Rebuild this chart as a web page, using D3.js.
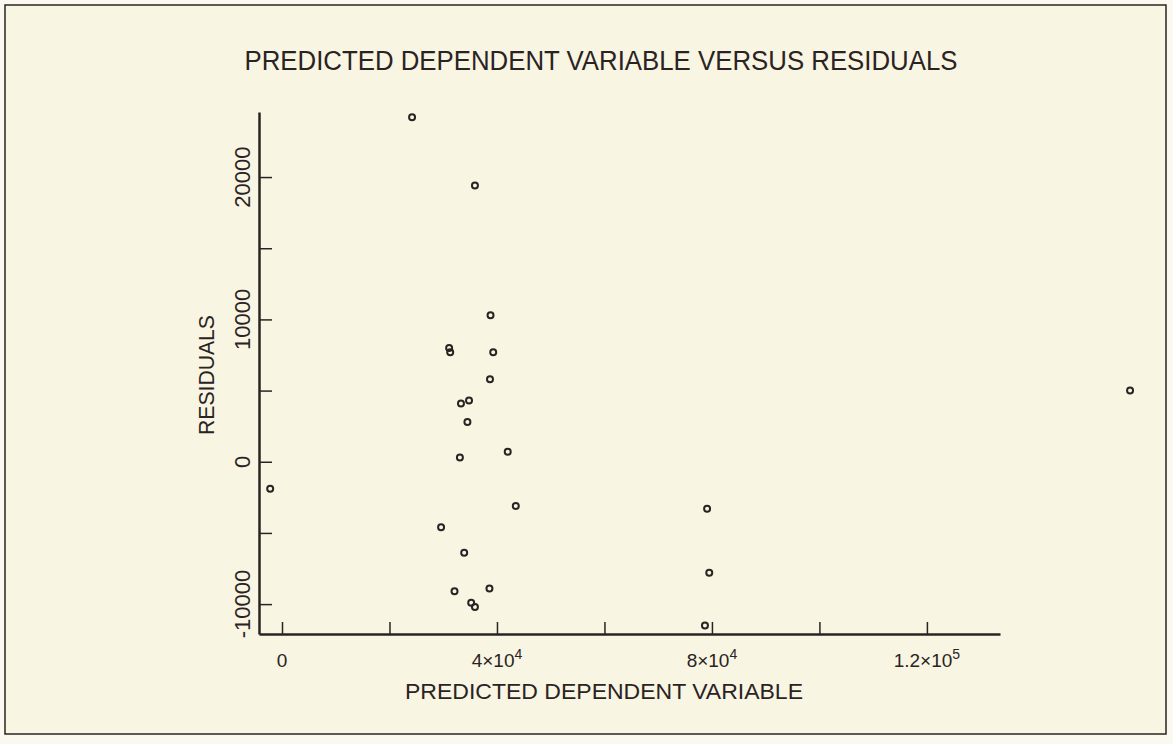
<!DOCTYPE html>
<html>
<head>
<meta charset="utf-8">
<script src="https://cdn.jsdelivr.net/npm/d3@7/dist/d3.min.js"></script>
<style>
  body { margin: 0; background: #fbf9ef; }
  svg { display: block; }
  text { font-family: "Liberation Sans", Arial, sans-serif; fill: #2b2323; }
</style>
</head>
<body>
<svg id="chart" width="1173" height="744"></svg>
<script>
// values
const predicted = [24200, 35900, 38800, 31100, 31300, 39300, 38700, 33300, 34800, 34500, 33100, 42000,
  -2200, 43500, 29600, 33900, 32100, 38600, 35200, 35900, 79100, 79500, 78700, 157800];
const residuals = [24200, 19400, 10300, 8000, 7700, 7700, 5800, 4100, 4300, 2800, 300, 700,
  -1900, -3100, -4600, -6400, -9100, -8900, -9900, -10200, -3300, -7800, -11500, 5000];

const yTicks = [-10000, -5000, 0, 5000, 10000, 15000, 20000];
const yTickLabels = ["-10000", "0", "10000", "20000"];
const xTicks = [0, 20000, 40000, 60000, 80000, 100000, 120000];
const xLabelValues = [0, 40000, 80000, 120000];
const xLabelBase = ["0", "4×10", "8×10", "1.2×10"];
const xLabelExp = ["", "4", "4", "5"];

const ink = "#2b2323";
const svg = d3.select("#chart");

svg.append("rect")
  .attr("x", 5).attr("y", 5).attr("width", 1161).attr("height", 729)
  .attr("fill", "#f8f5e2").attr("stroke", ink).attr("stroke-width", 1.5);

const x = d3.scaleLinear().domain([-4280, 133600]).range([259, 1000]);
const y = d3.scaleLinear().domain([-12100, 24570]).range([634, 112]);

// y axis, ticks pointing inward
svg.append("g")
  .attr("transform", `translate(${x.range()[0]},0)`)
  .call(d3.axisRight(y).tickValues(yTicks).tickSize(13).tickSizeOuter(0).tickFormat(""))
  .call(g => g.select(".domain").attr("stroke", ink).attr("stroke-width", 2.5))
  .call(g => g.selectAll(".tick line").attr("stroke", ink).attr("stroke-width", 1.5));

// x axis, ticks pointing up
svg.append("g")
  .attr("transform", `translate(0,${y.range()[0]})`)
  .call(d3.axisTop(x).tickValues(xTicks).tickSize(12).tickSizeOuter(0).tickFormat(""))
  .call(g => g.select(".domain").attr("stroke", ink).attr("stroke-width", 2.5))
  .call(g => g.selectAll(".tick line").attr("stroke", ink).attr("stroke-width", 1.5));

// y tick labels, rotated
yTickLabels.forEach(s => {
  const v = +s;
  svg.append("text")
    .attr("transform", `translate(250,${y(v)}) rotate(-90)`)
    .attr("text-anchor", "middle")
    .style("font-size", "22px")
    .text(s);
});

// x tick labels with exponents
xLabelValues.forEach((v, i) => {
  const t = svg.append("text")
    .attr("x", x(v)).attr("y", 667)
    .attr("text-anchor", "middle")
    .style("font-size", "19px");
  t.append("tspan").text(xLabelBase[i]);
  if (xLabelExp[i]) t.append("tspan").attr("dy", -8).style("font-size", "14px").text(xLabelExp[i]);
});

svg.selectAll("circle.pt")
  .data(predicted)
  .enter()
  .append("circle")
  .attr("class", "pt")
  .attr("cx", d => x(d))
  .attr("cy", (d, i) => y(residuals[i]))
  .attr("r", 3)
  .attr("fill", "none")
  .attr("stroke", ink)
  .attr("stroke-width", 2);

svg.append("text")
  .attr("x", 601).attr("y", 70)
  .attr("text-anchor", "middle")
  .attr("textLength", 713).attr("lengthAdjust", "spacingAndGlyphs")
  .style("font-size", "27px")
  .text("PREDICTED DEPENDENT VARIABLE VERSUS RESIDUALS");

svg.append("text")
  .attr("x", 604).attr("y", 699)
  .attr("text-anchor", "middle")
  .attr("textLength", 398).attr("lengthAdjust", "spacingAndGlyphs")
  .style("font-size", "22px")
  .text("PREDICTED DEPENDENT VARIABLE");

svg.append("text")
  .attr("transform", "translate(214,375) rotate(-90)")
  .attr("text-anchor", "middle")
  .attr("textLength", 120).attr("lengthAdjust", "spacingAndGlyphs")
  .style("font-size", "22px")
  .text("RESIDUALS");
</script>
</body>
</html>
